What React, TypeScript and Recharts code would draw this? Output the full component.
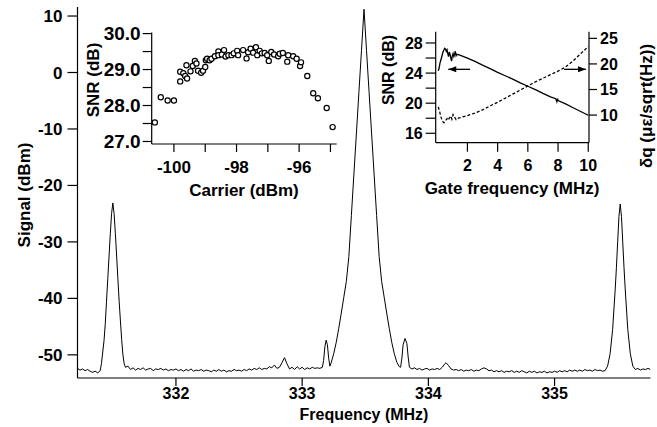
import { LineChart, Line, XAxis, YAxis, ScatterChart, Scatter, ReferenceLine } from 'recharts';

const FONT = '"Liberation Sans", Arial, Helvetica, sans-serif';

// main spectrum: [frequency MHz, signal dBm]
const spectrum: Array<[number, number]> = [
  [331.22, -52.4], [331.24, -52.7], [331.26, -52.5], [331.28, -52.8], [331.3, -52.6], [331.32, -52.9],
  [331.34, -53.1], [331.36, -52.9], [331.38, -53.2], [331.4, -52.8],
  [331.41, -51.5], [331.42, -49.5], [331.43, -47.5], [331.44, -44.5], [331.45, -40.5], [331.46, -36.5],
  [331.47, -32.5], [331.48, -28.5], [331.49, -25.0], [331.5, -23.1], [331.51, -25.0], [331.52, -28.5],
  [331.53, -32.5], [331.54, -36.5], [331.55, -40.5], [331.56, -44.0], [331.57, -47.3], [331.58, -50.0],
  [331.59, -51.6], [331.6, -52.2],
  [331.62, -52.0], [331.64, -52.6], [331.66, -52.3], [331.68, -52.7], [331.7, -52.4], [331.72, -52.6],
  [331.74, -52.3], [331.76, -52.7], [331.78, -52.5], [331.8, -52.4], [331.82, -52.8], [331.84, -52.5],
  [331.86, -52.6], [331.88, -52.4], [331.9, -52.7], [331.92, -52.5], [331.94, -52.8], [331.96, -52.6],
  [331.98, -52.7], [332.0, -52.5], [332.02, -52.8], [332.04, -52.6], [332.06, -52.9], [332.08, -52.6],
  [332.1, -52.8], [332.12, -52.5], [332.14, -52.9], [332.16, -52.7], [332.18, -52.8], [332.2, -52.6],
  [332.22, -52.9], [332.24, -52.7], [332.26, -52.8], [332.28, -53.0], [332.3, -52.7], [332.32, -52.9],
  [332.34, -52.6], [332.36, -52.9], [332.38, -52.7], [332.4, -53.0], [332.42, -52.8], [332.44, -52.9],
  [332.46, -52.6], [332.48, -52.8], [332.5, -52.7], [332.52, -52.9], [332.54, -52.6], [332.56, -52.8],
  [332.58, -52.5], [332.6, -52.7], [332.62, -52.4], [332.64, -52.6], [332.66, -52.3], [332.68, -52.6],
  [332.7, -52.4], [332.72, -52.5], [332.74, -52.1], [332.76, -52.3], [332.78, -51.8], [332.8, -52.4],
  [332.82, -52.2], [332.84, -51.4], [332.86, -50.5], [332.88, -51.6], [332.9, -52.5], [332.92, -52.2],
  [332.94, -52.6], [332.96, -52.1], [332.98, -52.5], [333.0, -52.2], [333.02, -52.6], [333.04, -52.3],
  [333.06, -52.5], [333.08, -52.2], [333.1, -52.4], [333.12, -52.3], [333.14, -52.4], [333.16, -52.2],
  [333.17, -51.0], [333.18, -48.6], [333.19, -47.4], [333.2, -48.2], [333.21, -50.6], [333.22, -52.0],
  [333.23, -51.4], [333.25, -49.8], [333.27, -47.8], [333.29, -45.3], [333.31, -42.6], [333.33, -39.8],
  [333.35, -37.0], [333.37, -32.6], [333.39, -25.3], [333.41, -18.0], [333.43, -10.7], [333.45, -3.4],
  [333.47, 3.9], [333.49, 11.2], [333.51, 3.9], [333.53, -3.4], [333.55, -10.7], [333.57, -18.0],
  [333.59, -25.3], [333.61, -32.6], [333.63, -37.0], [333.65, -39.8], [333.67, -42.6], [333.69, -45.3],
  [333.71, -47.8], [333.73, -49.8], [333.75, -51.3], [333.77, -52.1], [333.78, -52.2], [333.79, -50.6],
  [333.8, -48.2], [333.815, -47.1], [333.83, -48.0], [333.84, -50.4], [333.85, -52.2], [333.87, -52.5],
  [333.89, -52.3], [333.91, -52.6], [333.93, -52.4], [333.95, -52.7], [333.97, -52.5], [333.99, -52.4],
  [334.01, -52.7], [334.03, -52.5], [334.05, -52.6], [334.07, -52.4], [334.09, -52.6], [334.11, -52.2],
  [334.13, -51.6], [334.14, -51.4], [334.16, -51.9], [334.18, -52.5], [334.2, -52.7], [334.22, -52.6],
  [334.24, -52.8], [334.26, -52.6], [334.28, -52.9], [334.3, -52.7], [334.32, -52.8], [334.34, -52.6],
  [334.36, -52.9], [334.38, -52.7], [334.4, -52.8], [334.42, -52.5], [334.44, -52.3], [334.46, -52.5],
  [334.48, -52.8], [334.5, -52.7], [334.52, -53.0], [334.54, -52.8], [334.56, -53.0], [334.58, -52.8],
  [334.6, -53.1], [334.62, -52.9], [334.64, -53.0], [334.66, -52.8], [334.68, -53.1], [334.7, -52.9],
  [334.72, -53.1], [334.74, -52.8], [334.76, -53.0], [334.78, -53.2], [334.8, -52.9], [334.82, -53.1],
  [334.84, -52.9], [334.86, -53.2], [334.88, -53.0], [334.9, -53.1], [334.92, -52.9], [334.94, -53.2],
  [334.96, -53.0], [334.98, -53.1], [335.0, -52.9], [335.02, -53.1], [335.04, -52.8], [335.06, -53.0],
  [335.08, -52.8], [335.1, -53.0], [335.12, -52.7], [335.14, -52.9], [335.16, -52.7], [335.18, -52.9],
  [335.2, -52.7], [335.22, -52.9], [335.24, -52.6], [335.26, -52.8], [335.28, -52.7], [335.3, -52.9],
  [335.32, -52.6], [335.34, -52.8], [335.36, -52.7], [335.38, -52.9], [335.4, -52.8],
  [335.42, -52.0], [335.44, -49.8], [335.46, -45.5], [335.48, -38.5], [335.49, -34.5], [335.5, -30.0],
  [335.51, -25.5], [335.52, -23.3], [335.53, -25.5], [335.54, -30.0], [335.55, -34.5], [335.56, -38.5],
  [335.58, -45.5], [335.6, -49.8], [335.62, -52.0],
  [335.64, -52.6], [335.66, -52.4], [335.68, -52.7], [335.7, -52.5], [335.72, -52.6], [335.74, -52.4],
  [335.76, -52.6],
];
const freqTicks = [332, 333, 334, 335];
const signalTicks = [-50, -40, -30, -20, -10, 0, 10];

// inset 1: SNR vs carrier power, [carrier dBm, SNR dB]
const snrVsCarrier: Array<[number, number]> = [
  [-100.61, 27.53], [-100.42, 28.23], [-100.2, 28.14], [-100.0, 28.14], [-99.8, 28.67], [-99.8, 28.94],
  [-99.7, 28.9], [-99.64, 28.82], [-99.58, 28.75], [-99.6, 29.12], [-99.47, 28.95], [-99.4, 29.1],
  [-99.33, 29.24], [-99.28, 29.17], [-99.23, 28.97], [-99.13, 28.91], [-99.07, 28.97], [-99.0, 29.07],
  [-98.98, 29.26], [-98.94, 29.3], [-98.86, 29.26], [-98.8, 29.3], [-98.69, 29.37], [-98.58, 29.5],
  [-98.58, 29.4], [-98.47, 29.42], [-98.4, 29.54], [-98.35, 29.36], [-98.26, 29.4], [-98.16, 29.4],
  [-98.09, 29.45], [-97.98, 29.52], [-97.95, 29.4], [-97.79, 29.54], [-97.68, 29.31], [-97.63, 29.48],
  [-97.55, 29.58], [-97.47, 29.47], [-97.38, 29.62], [-97.34, 29.4], [-97.26, 29.52], [-97.19, 29.45],
  [-97.1, 29.46], [-97.02, 29.4], [-96.97, 29.24], [-96.89, 29.49], [-96.8, 29.42], [-96.67, 29.37],
  [-96.62, 29.44], [-96.52, 29.46], [-96.38, 29.22], [-96.35, 29.4], [-96.19, 29.37], [-96.08, 29.3],
  [-95.97, 29.1], [-95.94, 29.2], [-95.74, 28.82], [-95.55, 28.34], [-95.4, 28.2], [-95.12, 27.93],
  [-94.93, 27.4],
];
const carrierTicks = [-100, -99, -98, -97, -96, -95];
const snrTicks = [27, 27.5, 28, 28.5, 29, 29.5, 30];

// inset 2: SNR and strain resolution vs gate frequency
const gateSnr: Array<[number, number]> = [
  [0.07, 24.3], [0.12, 24.6], [0.18, 25.3], [0.25, 25.8], [0.32, 26.3], [0.38, 26.8], [0.45, 27.1],
  [0.5, 27.3], [0.55, 27.2], [0.6, 26.9], [0.65, 27.1], [0.7, 26.6], [0.75, 26.2], [0.8, 26.8],
  [0.85, 26.5], [0.9, 26.0], [0.95, 25.6], [1.0, 26.3], [1.05, 26.6], [1.1, 26.2], [1.15, 26.5],
  [1.2, 26.9], [1.25, 26.3], [1.3, 26.5], [1.5, 26.4], [2.0, 26.0], [2.5, 25.55], [3.0, 25.05],
  [3.5, 24.6], [4.0, 24.1], [4.5, 23.65], [5.0, 23.2], [5.5, 22.7], [6.0, 22.25], [6.5, 21.8],
  [7.0, 21.3], [7.5, 20.85], [7.85, 20.6], [7.92, 20.2], [7.97, 20.6], [8.0, 20.35], [8.5, 19.9],
  [9.0, 19.4], [9.5, 18.9], [10.0, 18.4],
];
const gateDq: Array<[number, number]> = [
  [0.07, 11.6], [0.15, 10.8], [0.25, 9.6], [0.35, 8.8], [0.45, 8.5], [0.55, 8.9], [0.65, 9.3],
  [0.72, 9.0], [0.8, 9.4], [0.9, 9.8], [0.97, 9.2], [1.05, 10.1], [1.15, 9.6], [1.25, 9.1],
  [1.4, 9.4], [2.0, 9.9], [2.5, 10.4], [3.0, 11.0], [3.5, 11.8], [4.0, 12.5], [4.5, 13.3],
  [5.0, 14.1], [5.5, 14.9], [6.0, 15.7], [6.5, 16.5], [7.0, 17.2], [7.5, 17.9], [8.0, 18.6],
  [8.5, 19.4], [9.0, 20.6], [9.5, 22.0], [10.0, 23.4],
];
const gateTicks = [2, 4, 6, 8, 10];
const gateSnrTicks = [16, 18, 20, 22, 24, 26, 28];
const gateDqTicks = [7.5, 10, 12.5, 15, 17.5, 20, 22.5, 25];

const tickStyle = (size: number) => ({ fill: '#000', fontSize: size, fontWeight: 700, fontFamily: FONT });

const OpenDot = (props: any) => (
  <circle cx={props.cx} cy={props.cy} r={2.6} fill="#fff" stroke="#000" strokeWidth={1.2} />
);

const Arrow = (props: any) => {
  const { x1, y1, x2, y2 } = props;
  const dir = x2 > x1 ? 1 : -1;
  return (
    <g>
      <line x1={x1} y1={y1} x2={x2} y2={y2} stroke="#000" strokeWidth={1.3} />
      <polygon points={`${x2},${y2} ${x2 - dir * 8},${y2 - 3} ${x2 - dir * 8},${y2 + 3}`} fill="#000" />
    </g>
  );
};

function MainChart() {
  const data = spectrum.map(([f, s]) => ({ f, s }));
  return (
    <LineChart width={657} height={427} data={data} margin={{ top: 7, right: 6.5, bottom: 0, left: 0 }}>
      <XAxis dataKey="f" type="number" domain={[331.22, 335.76]} ticks={freqTicks} allowDataOverflow
        height={49} tickSize={8} tickMargin={2} stroke="#000" strokeWidth={1.2} tick={tickStyle(16)} />
      <XAxis xAxisId="top" orientation="top" type="number" domain={[331.22, 335.76]} ticks={freqTicks}
        allowDataOverflow height={0} mirror tickSize={4} tick={false} stroke="#000" strokeWidth={1.2} />
      <YAxis type="number" domain={[-54.1, 11.6]} ticks={signalTicks} allowDataOverflow width={77.5}
        tickSize={10} tickMargin={5} stroke="#000" strokeWidth={1.2} tick={tickStyle(17)} />
      <YAxis yAxisId="right" orientation="right" type="number" domain={[-54.1, 11.6]} ticks={signalTicks}
        allowDataOverflow width={0} mirror tickSize={4} tick={false} stroke="#000" strokeWidth={1.2} />
      <Line dataKey="s" type="linear" stroke="#000" strokeWidth={1} dot={false} isAnimationActive={false} />
    </LineChart>
  );
}

function CarrierInset() {
  const data = snrVsCarrier.map(([c, snr]) => ({ c, snr }));
  return (
    <ScatterChart width={290} height={190} margin={{ top: 12.5, right: 23.3, bottom: 0, left: 0 }}>
      <XAxis dataKey="c" type="number" domain={[-100.71, -94.8]} ticks={carrierTicks} allowDataOverflow
        tickFormatter={(v: number) => (v % 2 === 0 ? String(v) : '')}
        height={66} tickSize={8} tickMargin={9} stroke="#000" strokeWidth={1.2} tick={tickStyle(17)} />
      <XAxis xAxisId="top" orientation="top" type="number" domain={[-100.71, -94.8]} ticks={carrierTicks}
        allowDataOverflow height={0} mirror tickSize={3} tick={false} stroke="#000" strokeWidth={1.2} />
      <YAxis dataKey="snr" type="number" domain={[26.93, 30.03]} ticks={snrTicks} allowDataOverflow
        tickFormatter={(v: number) => (Number.isInteger(v) ? v.toFixed(1) : '')}
        width={81.7} tickSize={9} tickMargin={2} stroke="#000" strokeWidth={1.2} tick={tickStyle(19)} />
      <YAxis yAxisId="right" orientation="right" type="number" domain={[26.93, 30.03]} ticks={snrTicks}
        allowDataOverflow width={0} mirror tickSize={3} tick={false} stroke="#000" strokeWidth={1.2} />
      <Scatter data={data} shape={OpenDot} isAnimationActive={false} />
    </ScatterChart>
  );
}

function GateInset() {
  const snrData = gateSnr.map(([x, v]) => ({ x, v }));
  const dqData = gateDq.map(([x, v]) => ({ x, v }));
  return (
    <LineChart width={277} height={180} margin={{ top: 11.7, right: 0, bottom: 0, left: 0 }}>
      <XAxis dataKey="x" type="number" domain={[-0.1, 10.05]} ticks={gateTicks} allowDataOverflow
        height={57.3} tickSize={9} tickMargin={8} stroke="#000" strokeWidth={1.2} tick={tickStyle(16)} />
      <XAxis xAxisId="top" orientation="top" type="number" domain={[-0.1, 10.05]} ticks={gateTicks}
        allowDataOverflow height={0} mirror tickSize={3} tick={false} stroke="#000" strokeWidth={1.2} />
      <YAxis yAxisId="snr" type="number" domain={[14.75, 29.5]} ticks={gateSnrTicks} allowDataOverflow
        tickFormatter={(v: number) => (v % 4 === 0 ? String(v) : '')}
        width={55.7} tickSize={10} tickMargin={3} stroke="#000" strokeWidth={1.2} tick={tickStyle(16)} />
      <YAxis yAxisId="dq" orientation="right" type="number" domain={[4.6, 26.3]} ticks={gateDqTicks}
        allowDataOverflow tickFormatter={(v: number) => (v % 5 === 0 ? String(v) : '')}
        width={68} tickSize={8} tickMargin={3} stroke="#000" strokeWidth={1.2} tick={tickStyle(16)} />
      <Line yAxisId="snr" data={snrData} dataKey="v" type="linear" stroke="#000" strokeWidth={1.3}
        dot={false} isAnimationActive={false} />
      <Line yAxisId="dq" data={dqData} dataKey="v" type="linear" stroke="#000" strokeWidth={1.3}
        strokeDasharray="3 2" dot={false} isAnimationActive={false} />
      <ReferenceLine yAxisId="snr" segment={[{ x: 2.18, y: 24.5 }, { x: 0.73, y: 24.5 }]} shape={Arrow} />
      <ReferenceLine yAxisId="snr" segment={[{ x: 8.4, y: 24.5 }, { x: 9.85, y: 24.5 }]} shape={Arrow} />
    </LineChart>
  );
}

export default function App() {
  const title = { fontFamily: FONT, fontWeight: 700, fill: '#000' } as const;
  return (
    <div style={{ position: 'absolute', left: 0, top: 0, width: 657, height: 427, background: '#fff' }}>
      <div style={{ position: 'absolute', left: 0, top: 0 }}>
        <MainChart />
      </div>
      <div style={{ position: 'absolute', left: 70, top: 20 }}>
        <CarrierInset />
      </div>
      <div style={{ position: 'absolute', left: 380, top: 20 }}>
        <GateInset />
      </div>
      <svg width={657} height={427} style={{ position: 'absolute', left: 0, top: 0, pointerEvents: 'none' }}>
        <text {...title} fontSize={17} textAnchor="middle" transform="translate(30,195) rotate(-90)">Signal (dBm)</text>
        <text {...title} fontSize={16} textAnchor="middle" x={364} y={420}>Frequency (MHz)</text>
        <text {...title} fontSize={17} textAnchor="middle" transform="translate(99,80) rotate(-90)">SNR (dB)</text>
        <text {...title} fontSize={17} textAnchor="middle" x={244} y={196}>Carrier (dBm)</text>
        <text {...title} fontSize={16} textAnchor="middle" transform="translate(394,70) rotate(-90)">SNR (dB)</text>
        <text {...title} fontSize={17} textAnchor="middle" x={512} y={194}>Gate frequency (MHz)</text>
        <text {...title} fontSize={17} textAnchor="middle" transform="translate(652,106) rotate(-90)">δq (με/sqrt(Hz))</text>
      </svg>
    </div>
  );
}
